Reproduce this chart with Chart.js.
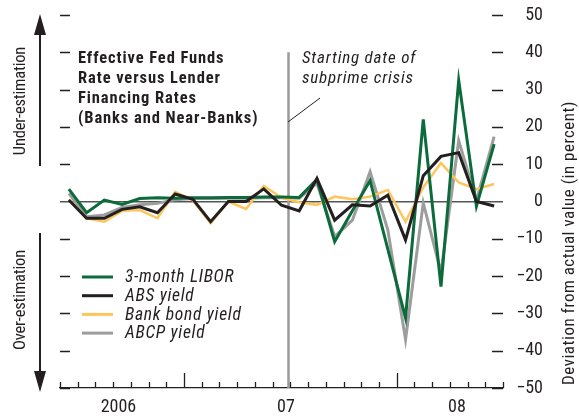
<!DOCTYPE html>
<html>
<head>
<meta charset="utf-8">
<script src="https://cdn.jsdelivr.net/npm/chart.js@4"></script>
<style>
  html, body { margin: 0; padding: 0; background: #fff; }
</style>
</head>
<body>
<canvas id="chart" width="579" height="420"></canvas>
<script>
// Monthly deviations (percent), one value per period on the axis
const libor    = [3.3, -3.0, 0.4, -0.8, 0.8, 1.0, 0.9, 1.0, 1.0, 1.1, 1.1, 1.2, 1.2, 1.1, 5.9, -10.8, -2.5, 5.6, -12.8, -31.2, 22.0, -22.8, 32.5, -1.3, 15.4];
const absYield = [0.4, -4.5, -4.5, -2.1, -1.4, -3.0, 2.0, 0.6, -5.4, 0.0, 0.0, 3.4, -1.0, -2.5, 6.2, -5.0, -0.9, -1.2, 1.7, -10.3, 6.9, 12.1, 13.1, 0.0, -1.2];
const bankBond = [0.6, -4.5, -5.4, -2.5, -2.3, -4.5, 2.6, 0.3, -5.8, 0.0, -2.0, 4.2, 1.0, -0.2, -0.9, 1.3, 0.6, 1.3, 3.1, -5.4, 3.8, 10.3, 5.1, 3.3, 4.7];
const abcp     = [2.2, -4.1, -3.6, -1.6, -0.9, -0.5, 0.5, 0.8, 0.8, 0.9, 0.9, 1.0, 1.0, 0.9, 4.9, -9.4, -5.0, 8.0, -7.6, -37.0, -0.4, -19.0, 16.3, 0.3, 17.4];

const periods = 25;
const xLabels = ['2006', '07', '08'];
const xLabelPos = [3.3, 12.75, 22.4];
const majorTicks = [7, 19];
const crisisStart = 13;
const yTicks = [50, 40, 30, 20, 10, 0, -10, -20, -30, -40, -50];

const FONT = "'Liberation Sans Narrow', 'Arial Narrow', 'Roboto Condensed', 'Liberation Sans', sans-serif";
const INK = '#231f20';

const pts = (vals) => vals.map((v, i) => ({ x: i + 0.5, y: v }));

// extra decoration: tick marks, annotation, legend, side labels
const decor = {
    id: 'decor',
    beforeDatasetsDraw(chart) {
        const { ctx, scales: { x, y }, chartArea } = chart;
        const cx = Math.round(x.getPixelForValue(crisisStart)) - 1.5;
        ctx.save();
        ctx.strokeStyle = '#9a9a9a';
        ctx.lineWidth = 2.5;
        ctx.beginPath();
        ctx.moveTo(cx, y.getPixelForValue(40));
        ctx.lineTo(cx, chartArea.bottom);
        ctx.stroke();
        ctx.restore();
    },
    afterDraw(chart) {
        const { ctx, scales: { x, y }, chartArea } = chart;
        ctx.save();
        ctx.strokeStyle = INK;
        ctx.lineWidth = 1.3;

        // x tick marks pointing up into the plot
        for (let i = 0; i <= periods; i++) {
            const px = Math.round(x.getPixelForValue(i)) + 0.5;
            const len = majorTicks.includes(i) ? 15 : 6;
            ctx.beginPath();
            ctx.moveTo(px, chartArea.bottom);
            ctx.lineTo(px, chartArea.bottom - len);
            ctx.stroke();
        }
        // y dashes at both edges
        yTicks.forEach(v => {
            if (v === 0) return;
            const py = Math.round(y.getPixelForValue(v)) + 0.5;
            ctx.beginPath();
            ctx.moveTo(chartArea.left, py); ctx.lineTo(chartArea.left + 10, py);
            ctx.moveTo(chartArea.right - 11, py); ctx.lineTo(chartArea.right, py);
            ctx.stroke();
        });

        ctx.fillStyle = INK;
        ctx.textBaseline = 'middle';
        ctx.textAlign = 'left';
        const spacing = (px) => { if ('letterSpacing' in ctx) ctx.letterSpacing = px + 'px'; };

        // title
        ctx.font = `bold 16.5px ${FONT}`;
        spacing(0.9);
        ['Effective Fed Funds', 'Rate versus Lender', 'Financing Rates', '(Banks and Near-Banks)']
            .forEach((t, i) => ctx.fillText(t, 78, 59 + i * 20));

        // crisis annotation
        ctx.font = `italic 17px ${FONT}`;
        spacing(0.8);
        ctx.fillText('Starting date of', 302, 59);
        ctx.fillText('subprime crisis', 302, 79);
        ctx.lineWidth = 1;
        ctx.beginPath();
        ctx.moveTo(320, 98);
        ctx.lineTo(288, 122);
        ctx.stroke();

        // legend
        ctx.font = `italic 17.5px ${FONT}`;
        spacing(0.7);
        chart.data.datasets.forEach((ds, i) => {
            const ly = 277 + i * 18.7;
            ctx.strokeStyle = ds.borderColor;
            ctx.lineWidth = 3;
            ctx.beginPath();
            ctx.moveTo(82, ly); ctx.lineTo(113, ly);
            ctx.stroke();
            ctx.fillStyle = INK;
            ctx.fillText(ds.label, 125, ly + 1);
        });

        // left side arrows
        ctx.strokeStyle = INK;
        ctx.fillStyle = INK;
        ctx.lineWidth = 2;
        ctx.beginPath();
        ctx.moveTo(40, 166); ctx.lineTo(40, 30);
        ctx.moveTo(40, 233); ctx.lineTo(40, 376);
        ctx.stroke();
        ctx.beginPath();
        ctx.moveTo(40, 14); ctx.lineTo(34, 35); ctx.lineTo(46, 35); ctx.closePath();
        ctx.moveTo(40, 392); ctx.lineTo(34, 371); ctx.lineTo(46, 371); ctx.closePath();
        ctx.fill();

        // rotated labels
        const vtext = (t, px, py) => {
            ctx.save();
            ctx.translate(px, py);
            ctx.rotate(-Math.PI / 2);
            ctx.textAlign = 'center';
            ctx.fillText(t, 0, 0);
            ctx.restore();
        };
        ctx.font = `16.5px ${FONT}`;
        spacing(-0.2);
        vtext('Under-estimation', 21, 101);
        vtext('Over-estimation', 21, 300);
        ctx.font = `17px ${FONT}`;
        spacing(0.5);
        vtext('Deviation from actual value (in percent)', 570, 243);
        spacing(0);
        ctx.restore();
    }
};

new Chart(document.getElementById('chart'), {
    type: 'line',
    data: {
        datasets: [
            { label: '3-month LIBOR', data: pts(libor), borderColor: '#0b6b3a', borderWidth: 3, order: 2 },
            { label: 'ABS yield', data: pts(absYield), borderColor: INK, borderWidth: 3, order: 1 },
            { label: 'Bank bond yield', data: pts(bankBond), borderColor: '#fdc55c', borderWidth: 2.5, order: 3 },
            { label: 'ABCP yield', data: pts(abcp), borderColor: '#9d9d9d', borderWidth: 3, order: 4 }
        ]
    },
    options: {
        responsive: false,
        animation: false,
        layout: { padding: { left: 60, right: 20, top: 15, bottom: 0 } },
        elements: { point: { radius: 0 }, line: { tension: 0 } },
        plugins: { legend: { display: false }, tooltip: { enabled: false } },
        scales: {
            x: {
                type: 'linear',
                min: 0,
                max: periods,
                afterBuildTicks: (s) => { s.ticks = xLabelPos.map(v => ({ value: v })); },
                afterFit: (s) => { s.height = 32; s.paddingLeft = 0; s.paddingRight = 0; },
                ticks: {
                    callback: (v, i) => xLabels[i],
                    color: INK,
                    font: { family: FONT, size: 18 },
                    padding: 9,
                    maxRotation: 0,
                    autoSkip: false
                },
                grid: { drawTicks: false, color: 'rgba(0,0,0,0)' },
                border: { display: true, color: INK, width: 1.3 }
            },
            y: {
                position: 'right',
                min: -50,
                max: 50,
                afterBuildTicks: (s) => { s.ticks = yTicks.map(v => ({ value: v })); },
                afterFit: (s) => { s.width = 56; s.paddingTop = 0; s.paddingBottom = 0; },
                ticks: {
                    callback: (v) => v < 0 ? '\u2212' + Math.abs(v) : String(v),
                    color: INK,
                    font: { family: FONT, size: 18 },
                    mirror: true,
                    crossAlign: 'near',
                    padding: 40
                },
                grid: {
                    drawTicks: false,
                    color: (c) => c.tick && c.tick.value === 0 ? '#555' : 'rgba(0,0,0,0)',
                    lineWidth: 1.5
                },
                border: { display: false }
            }
        }
    },
    plugins: [decor]
});
</script>
</body>
</html>
